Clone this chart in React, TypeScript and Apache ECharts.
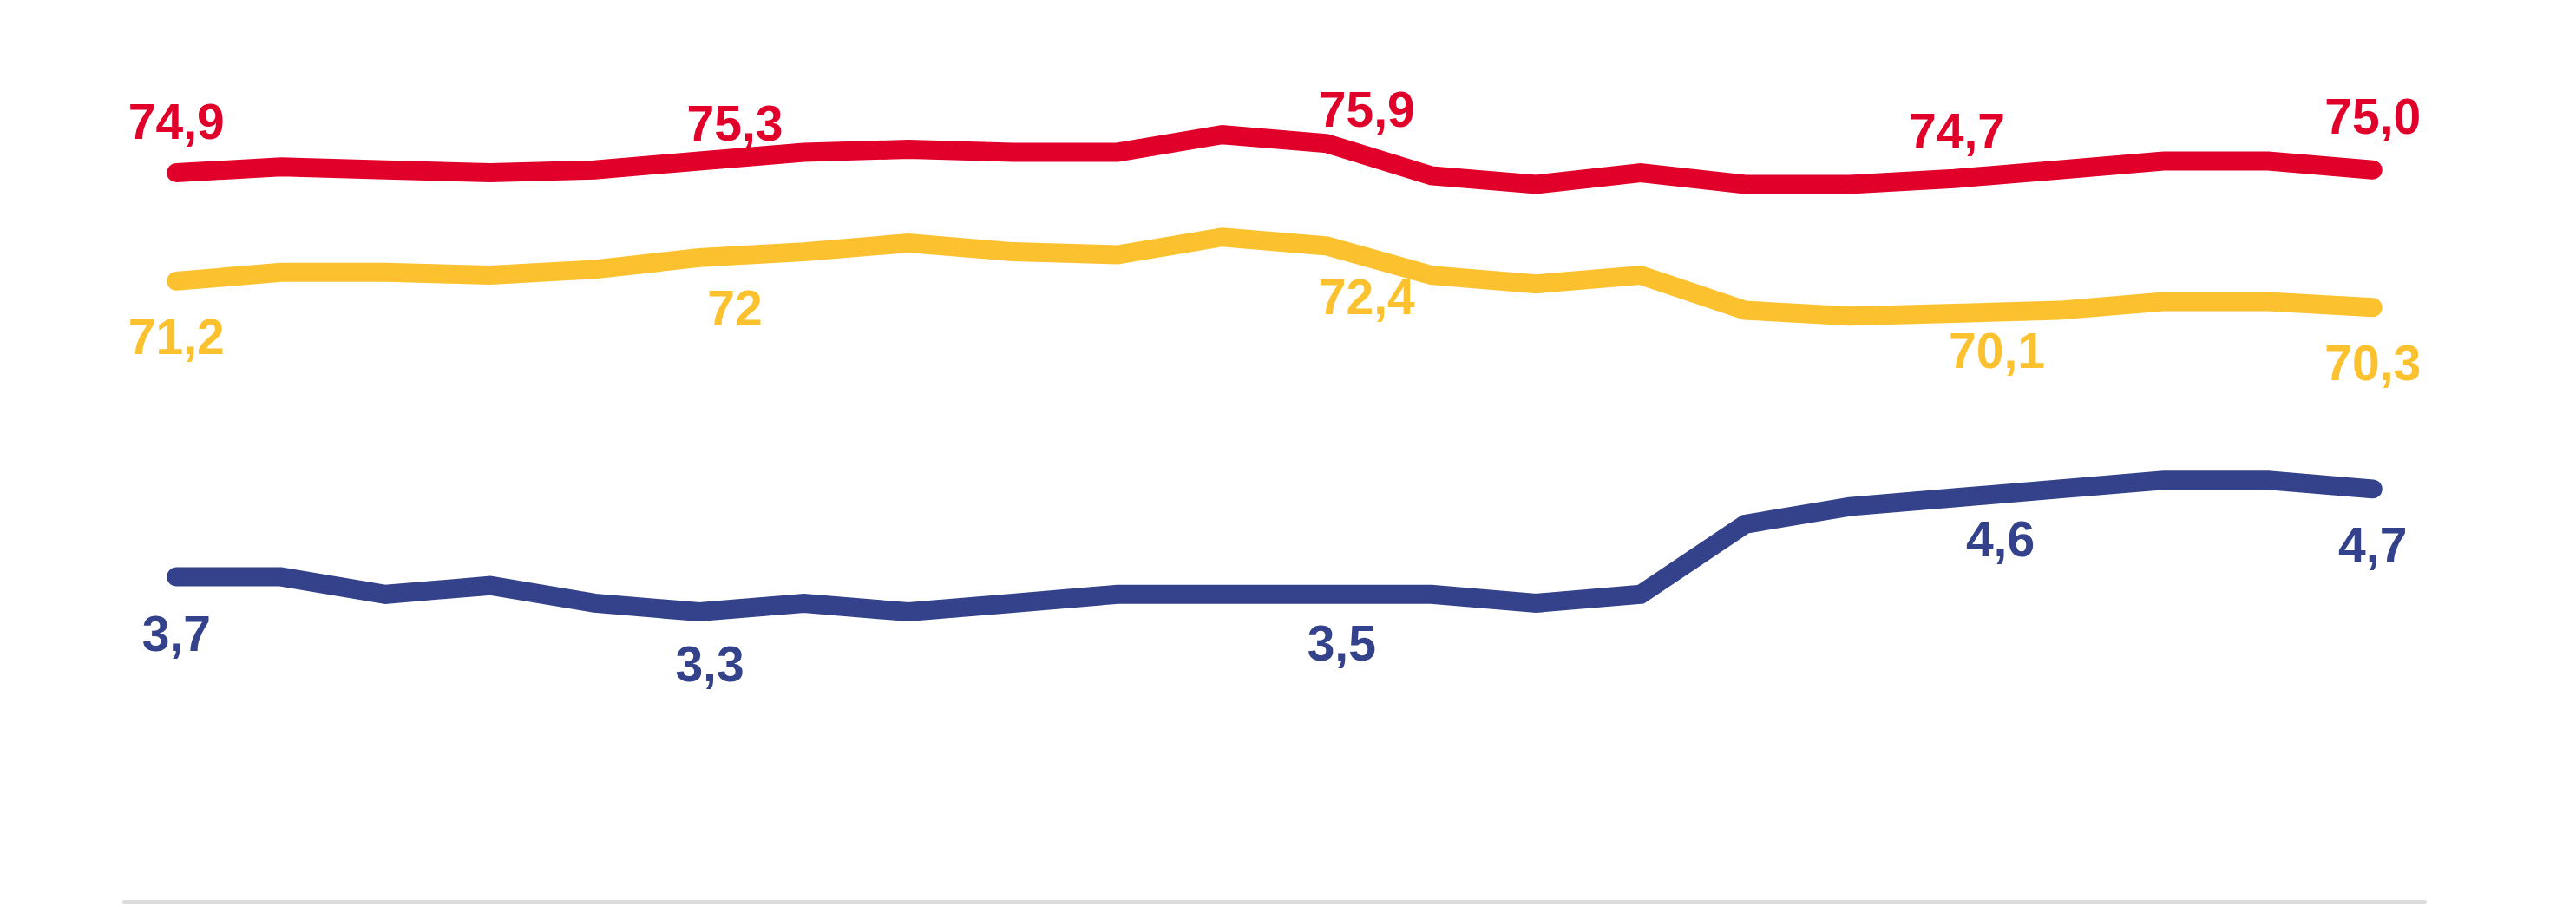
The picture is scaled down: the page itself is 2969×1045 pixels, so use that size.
import React, { useEffect, useRef } from "react";
import * as echarts from "echarts";

// 22 periods (axis labels are not shown in the reference)
const categories = ["1", "2", "3", "4", "5", "6", "7", "8", "9", "10", "11", "12", "13", "14", "15", "16", "17", "18", "19", "20", "21", "22"];

const redValues = [74.9, 75.1, 75.0, 74.9, 75.0, 75.3, 75.6, 75.7, 75.6, 75.6, 76.2, 75.9, 74.8, 74.5, 74.9, 74.5, 74.5, 74.7, 75.0, 75.3, 75.3, 75.0];
const yellowValues = [71.2, 71.5, 71.5, 71.4, 71.6, 72.0, 72.2, 72.5, 72.2, 72.1, 72.7, 72.4, 71.4, 71.1, 71.4, 70.2, 70.0, 70.1, 70.2, 70.5, 70.5, 70.3];
const blueValues = [3.7, 3.7, 3.5, 3.6, 3.4, 3.3, 3.4, 3.3, 3.4, 3.5, 3.5, 3.5, 3.5, 3.4, 3.5, 4.3, 4.5, 4.6, 4.7, 4.8, 4.8, 4.7];

// labelled points: index and text
const redLabelIdx = [0, 5, 11, 17, 21];
const redLabelText = ["74,9", "75,3", "75,9", "74,7", "75,0"];
const yellowLabelIdx = [0, 5, 11, 17, 21];
const yellowLabelText = ["71,2", "72", "72,4", "70,1", "70,3"];
const blueLabelIdx = [0, 5, 11, 17, 21];
const blueLabelText = ["3,7", "3,3", "3,5", "4,6", "4,7"];

// label placement (layout only)
const redLabelOffsets = [[0, -30], [41, -15], [46, -10], [3, -26], [0, -33]];
const yellowLabelOffsets = [[0, 35], [41, 29], [46, 30], [49, 14], [0, 35]];
const blueLabelOffsets = [[0, 36], [12, 31], [17, 27], [53, 19], [0, 36]];

const RED = "#E1002A";
const YELLOW = "#FCC12F";
const BLUE = "#33428A";
const FONT = "'Liberation Sans', Arial, Helvetica, sans-serif";

function buildData(values: number[], idx: number[], texts: string[], offsets: number[][]) {
  return values.map((v, i) => {
    const k = idx.indexOf(i);
    if (k < 0) return v;
    return { value: v, label: { show: true, formatter: texts[k], offset: offsets[k] } };
  });
}

function lineSeries(name: string, color: string, yAxisIndex: number, data: any[], position: string) {
  return {
    name,
    type: "line",
    yAxisIndex,
    data,
    symbol: "circle",
    symbolSize: 1,
    showSymbol: true,
    itemStyle: { color },
    lineStyle: { color, width: 22, cap: "round", join: "miter" },
    label: {
      show: false,
      position,
      distance: 0,
      color,
      fontSize: 57,
      fontWeight: "bold",
      fontFamily: FONT,
    },
    emphasis: { disabled: true },
  };
}

export default function App() {
  const ref = useRef<HTMLDivElement>(null);
  useEffect(() => {
    if (!ref.current) return;
    const chart = echarts.init(ref.current, undefined, { renderer: "svg" });
    chart.setOption({
      animation: false,
      backgroundColor: "#ffffff",
      grid: { left: 143, right: 174, top: 27, bottom: 6, containLabel: false },
      xAxis: {
        type: "category",
        data: categories,
        boundaryGap: true,
        axisLine: { show: true, lineStyle: { color: "#DCDCDC", width: 4 } },
        axisTick: { show: false },
        axisLabel: { show: false },
        splitLine: { show: false },
      },
      yAxis: [
        { type: "value", min: 50, max: 80, show: false, splitLine: { show: false } },
        { type: "value", min: 0, max: 10, show: false, splitLine: { show: false } },
      ],
      series: [
        lineSeries("blue", BLUE, 1, buildData(blueValues, blueLabelIdx, blueLabelText, blueLabelOffsets), "bottom"),
        lineSeries("yellow", YELLOW, 0, buildData(yellowValues, yellowLabelIdx, yellowLabelText, yellowLabelOffsets), "bottom"),
        lineSeries("red", RED, 0, buildData(redValues, redLabelIdx, redLabelText, redLabelOffsets), "top"),
      ],
    });
    return () => chart.dispose();
  }, []);
  return (
    <div
      ref={ref}
      style={{ position: "fixed", left: 0, top: 0, width: 2969, height: 1045, background: "#fff" }}
    />
  );
}
